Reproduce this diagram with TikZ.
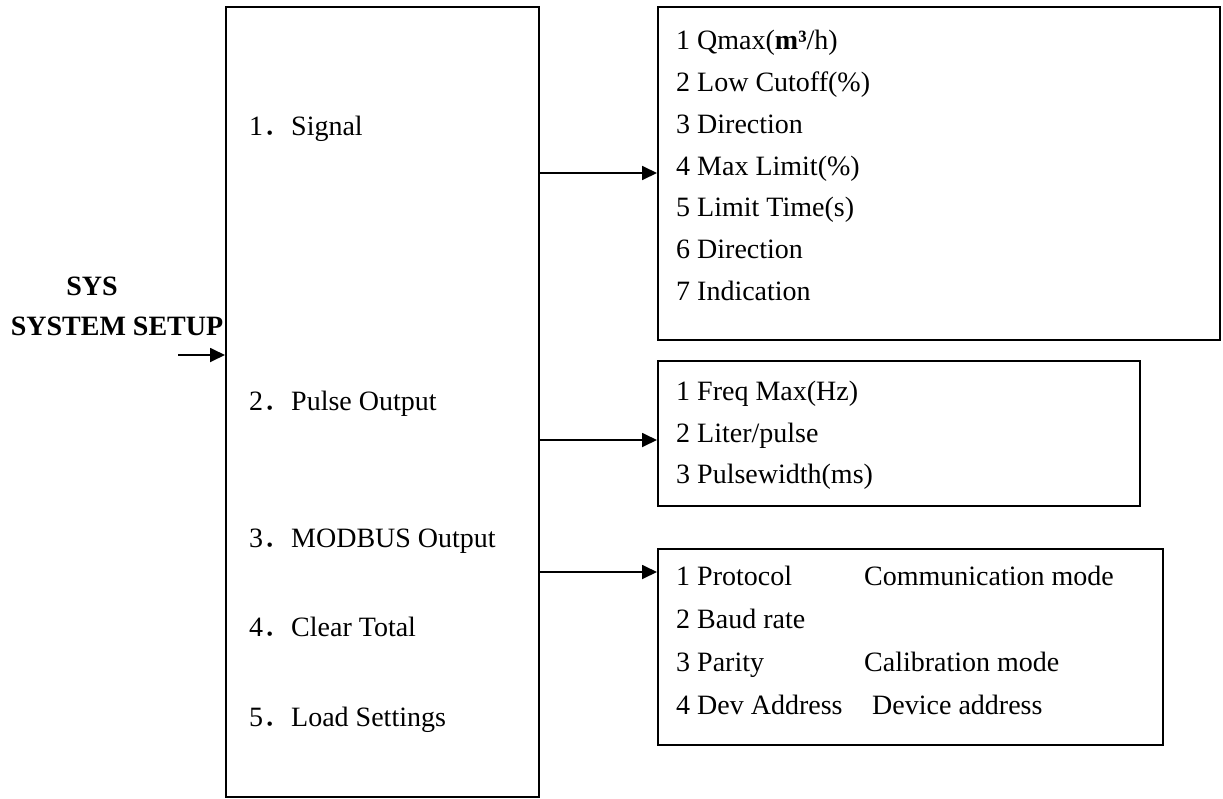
\documentclass[tikz,border=0pt]{standalone}
\usepackage{fontspec}
\setmainfont{Liberation Serif}
\newfontfamily\cjk{Noto Sans CJK SC}
\usetikzlibrary{arrows.meta}
\begin{document}
\begin{tikzpicture}[x=1pt,y=-1pt,
  box/.style={draw,line width=1.8pt,inner sep=0pt,anchor=north west},
  txt/.style={anchor=west,inner sep=0pt,font=\fontsize{28}{30}\selectfont,text height=0.6em,text depth=0.2em},
  btxt/.style={anchor=center,inner sep=0pt,font=\fontsize{28}{30}\selectfont\bfseries,text height=0.6em,text depth=0.2em},
  arr/.style={line width=1.8pt,-{Triangle[length=15pt,width=14pt]}}]
\useasboundingbox (0,0) rectangle (1223,798);
% boxes
\node[box,minimum width=313pt,minimum height=790pt] (main) at (225,6) {};
\node[box,minimum width=562pt,minimum height=333pt] (box1) at (657,6) {};
\node[box,minimum width=482pt,minimum height=145pt] (box2) at (657,360) {};
\node[box,minimum width=505pt,minimum height=196pt] (box3) at (657,548) {};
% left title
\node[btxt] (sys) at (92,293) {SYS};
\node[btxt] (sysset) at (117,333) {SYSTEM SETUP};
\coordinate (in) at (178,355);
\draw[arr] (in) -- (in -| main.west);
% main list
\node[txt] (m1) at (249,133) {1{\cjk ．}Signal};
\node[txt] (m2) at (249,408) {2{\cjk ．}Pulse Output};
\node[txt] (m3) at (249,545) {3{\cjk ．}MODBUS Output};
\node[txt] (m4) at (249,634) {4{\cjk ．}Clear Total};
\node[txt] (m5) at (249,724) {5{\cjk ．}Load Settings};
% box1 list
\node[txt] (a1) at (676,47) {1 Qmax(\textbf{m³}/h)};
\node[txt] (a2) at (676,89) {2 Low Cutoff(\%)};
\node[txt] (a3) at (676,131) {3 Direction};
\node[txt] (a4) at (676,173) {4 Max Limit(\%)};
\node[txt] (a5) at (676,214) {5 Limit Time(s)};
\node[txt] (a6) at (676,256) {6 Direction};
\node[txt] (a7) at (676,298) {7 Indication};
% box2 list
\node[txt] (b1) at (676,398) {1 Freq Max(Hz)};
\node[txt] (b2) at (676,440) {2 Liter/pulse};
\node[txt] (b3) at (676,481) {3 Pulsewidth(ms)};
% box3 list
\node[txt] (c1) at (676,583) {1 Protocol};
\node[txt] (c1r) at (864,583) {Communication mode};
\node[txt] (c2) at (676,626) {2 Baud rate};
\node[txt] (c3) at (676,669) {3 Parity};
\node[txt] (c3r) at (864,669) {Calibration mode};
\node[txt] (c4) at (676,712) {4 Dev Address};
\node[txt] (c4r) at (872,712) {Device address};
% connectors
\draw[arr] (main.east |- a4) -- (a4 -| box1.west);
\draw[arr] (main.east |- b2) -- (b2 -| box2.west);
\coordinate (c0) at (main.east |- 0,572);
\draw[arr] (c0) -- (c0 -| box3.west);
\end{tikzpicture}
\end{document}
